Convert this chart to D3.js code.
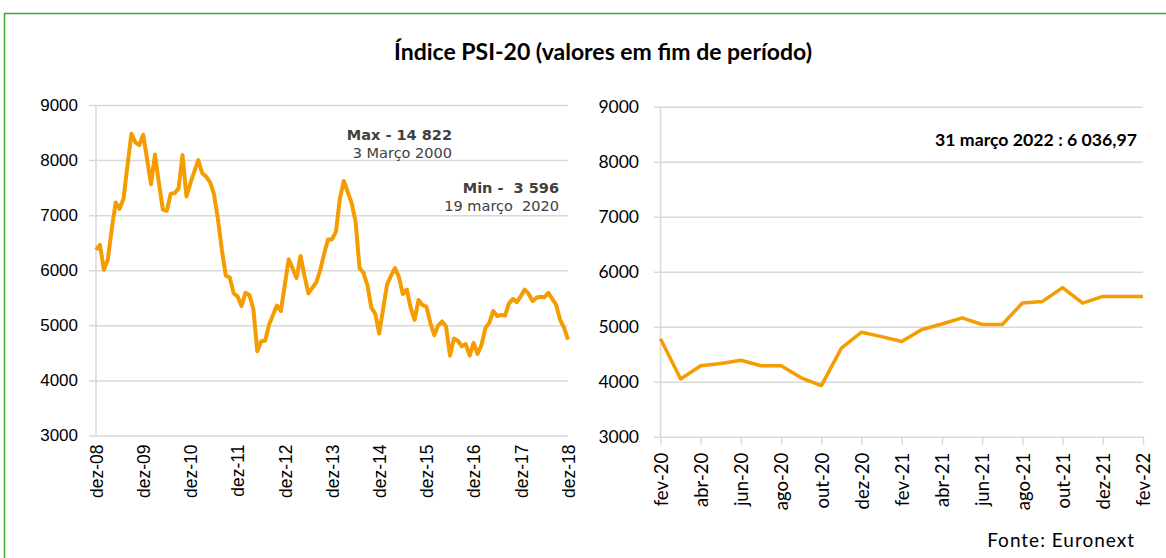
<!DOCTYPE html>
<html>
<head>
<meta charset="utf-8">
<script src="https://cdn.jsdelivr.net/npm/d3@7"></script>
<style>
	body { margin: 0; background: #fff; }
	svg { display: block; }
</style>
</head>
<body>
<div id="chart"></div>
<script>
// PSI-20, fim de mês, dez-08 .. dez-18
const leftValues = [
	6370, 6460, 6010, 6190, 6750, 7230, 7115, 7300, 7900, 8480, 8320, 8270,
	8460, 8010, 7560, 8100, 7580, 7100, 7080, 7390, 7400, 7490, 8090, 7340,
	7580, 7790, 8000, 7760, 7700, 7600, 7380, 6930, 6370, 5900, 5870, 5580,
	5525, 5350, 5590, 5550, 5300, 4530, 4710, 4720, 5010, 5190, 5360, 5260,
	5735, 6200, 6030, 5860, 6260, 5900, 5580, 5680, 5780, 6000, 6300, 6560,
	6560, 6700, 7300, 7620, 7420, 7220, 6880, 6040, 5950, 5730, 5320, 5210,
	4850, 5300, 5740, 5900, 6040, 5880, 5570, 5650, 5320, 5100, 5460, 5370,
	5340, 5050, 4820, 5000, 5070, 4980, 4450, 4760, 4720, 4620, 4660, 4450,
	4680, 4480, 4640, 4950, 5050, 5260, 5170, 5190, 5175, 5400, 5480, 5420,
	5530, 5650, 5570, 5440, 5500, 5520, 5510, 5590, 5480, 5370, 5100, 4960,
	4740,
];
const leftTickLabels = ["dez-08", "dez-09", "dez-10", "dez-11", "dez-12", "dez-13", "dez-14", "dez-15", "dez-16", "dez-17", "dez-18"];

const rightMonths = [
	"fev-20", "mar-20", "abr-20", "mai-20", "jun-20", "jul-20", "ago-20", "set-20", "out-20", "nov-20", "dez-20", "jan-21",
	"fev-21", "mar-21", "abr-21", "mai-21", "jun-21", "jul-21", "ago-21", "set-21", "out-21", "nov-21", "dez-21", "jan-22", "fev-22",
];
const rightValues = [
	4780, 4050, 4290, 4330, 4390, 4290, 4290, 4070, 3930, 4610, 4900, 4820,
	4730, 4950, 5050, 5160, 5040, 5040, 5430, 5460, 5710, 5430, 5550, 5550, 5550,
];

const yTicks = [3000, 4000, 5000, 6000, 7000, 8000, 9000];

const width = 1166;
const height = 558;
const lineColor = "#f59c00";
const gridColor = "#d9d9d9";

const svg = d3
	.select("#chart")
	.append("svg")
	.attr("width", width)
	.attr("height", height);

// moldura verde
svg.append("rect")
	.attr("x", 4.5)
	.attr("y", 13.5)
	.attr("width", 1170)
	.attr("height", 600)
	.attr("fill", "none")
	.attr("stroke", "#3aaa35")
	.attr("stroke-width", 1.5);

svg.append("text")
	.attr("x", 603)
	.attr("y", 60)
	.attr("text-anchor", "middle")
	.attr("font-family", "Lato, sans-serif")
	.attr("font-weight", "bold")
	.attr("font-size", "23px")
	.attr("fill", "#000")
	.text("Índice PSI-20 (valores em fim de período)");

// ---------- painel esquerdo ----------
const lx = d3.scaleLinear().domain([0, leftValues.length - 1]).range([96, 568]);
const ly = d3.scaleLinear().domain([3000, 9000]).range([435.5, 105]);

const leftGrid = svg.append("g")
	.attr("transform", "translate(89, 0)")
	.call(d3.axisLeft(ly).tickValues(yTicks).tickSize(-(568 - 89)).tickPadding(11).tickFormat(d3.format("d")));
leftGrid.select(".domain").remove();
leftGrid.selectAll("line").attr("stroke", gridColor).attr("stroke-width", 1.5);
leftGrid.selectAll("text")
	.attr("font-family", "'Liberation Sans', Arial, sans-serif")
	.attr("font-size", "17px")
	.attr("fill", "#000");

svg.append("line")
	.attr("x1", 96).attr("x2", 96)
	.attr("y1", 105).attr("y2", 435.5)
	.attr("stroke", gridColor)
	.attr("stroke-width", 1.5);

const leftX = svg.append("g")
	.attr("transform", "translate(0, 435.5)")
	.call(d3.axisBottom(lx)
		.tickValues(leftTickLabels.map((d, i) => i * 12))
		.tickSize(0)
		.tickFormat((d, i) => leftTickLabels[i]));
leftX.select(".domain").remove();
leftX.selectAll("text")
	.attr("transform", "rotate(-90)")
	.attr("text-anchor", "end")
	.attr("x", -9)
	.attr("y", 0)
	.attr("dy", "0.36em")
	.attr("font-family", "'Liberation Sans', Arial, sans-serif")
	.attr("font-size", "17.5px")
	.attr("fill", "#000");

svg.append("path")
	.datum(leftValues)
	.attr("fill", "none")
	.attr("stroke", lineColor)
	.attr("stroke-width", 4)
	.attr("stroke-linejoin", "round")
	.attr("d", d3.line().x((d, i) => lx(i)).y((d) => ly(d)));

const note = svg.append("g")
	.attr("font-family", "'DejaVu Sans', Verdana, sans-serif")
	.attr("font-size", "14.5px")
	.attr("fill", "#404040")
	.attr("text-anchor", "end");
note.append("text").attr("x", 452).attr("y", 140).attr("font-weight", "bold").text("Max - 14 822");
note.append("text").attr("x", 452).attr("y", 158).text("3 Março 2000");
note.append("text").attr("x", 559).attr("y", 193).attr("font-weight", "bold").attr("xml:space", "preserve").text("Min -  3 596");
note.append("text").attr("x", 559).attr("y", 211).attr("xml:space", "preserve").text("19 março  2020");

// ---------- painel direito ----------
const rx = d3.scalePoint().domain(rightMonths).range([660.5, 1143]);
const ry = d3.scaleLinear().domain([3000, 9000]).range([436.7, 106.7]);

const rightGrid = svg.append("g")
	.attr("transform", "translate(654, 0)")
	.call(d3.axisLeft(ry).tickValues(yTicks).tickSize(-(1143 - 654)).tickPadding(15).tickFormat(d3.format("d")));
rightGrid.select(".domain").remove();
rightGrid.selectAll("line").attr("stroke", gridColor).attr("stroke-width", 1.5);
rightGrid.selectAll("text")
	.attr("font-family", "Lato, sans-serif")
	.attr("font-size", "17.5px")
	.attr("fill", "#000");

svg.append("line")
	.attr("x1", 660.5).attr("x2", 660.5)
	.attr("y1", 106.7).attr("y2", 436.7)
	.attr("stroke", gridColor)
	.attr("stroke-width", 1.5);

const rightX = svg.append("g")
	.attr("transform", "translate(0, 436.7)")
	.call(d3.axisBottom(rx)
		.tickValues(rightMonths.filter((d, i) => i % 2 === 0))
		.tickSize(8));
rightX.select(".domain").remove();
rightX.selectAll("line").attr("stroke", gridColor).attr("stroke-width", 1.5);
rightX.selectAll("text")
	.attr("transform", "rotate(-90)")
	.attr("text-anchor", "end")
	.attr("x", -16)
	.attr("y", 0)
	.attr("dy", "0.36em")
	.attr("font-family", "Lato, sans-serif")
	.attr("font-size", "18.5px")
	.attr("fill", "#000");

svg.append("path")
	.datum(rightValues)
	.attr("fill", "none")
	.attr("stroke", lineColor)
	.attr("stroke-width", 3.5)
	.attr("stroke-linejoin", "round")
	.attr("d", d3.line().x((d, i) => rx(rightMonths[i])).y((d) => ry(d)));

svg.append("text")
	.attr("x", 1137)
	.attr("y", 146)
	.attr("text-anchor", "end")
	.attr("font-family", "Lato, sans-serif")
	.attr("font-weight", "bold")
	.attr("font-size", "17.7px")
	.attr("fill", "#000")
	.text("31 março 2022 : 6 036,97");

svg.append("text")
	.attr("x", 1135)
	.attr("y", 547)
	.attr("text-anchor", "end")
	.attr("font-family", "Lato, sans-serif")
	.attr("font-size", "19px")
	.attr("letter-spacing", "1px")
	.attr("fill", "#000")
	.text("Fonte: Euronext");
</script>
</body>
</html>
